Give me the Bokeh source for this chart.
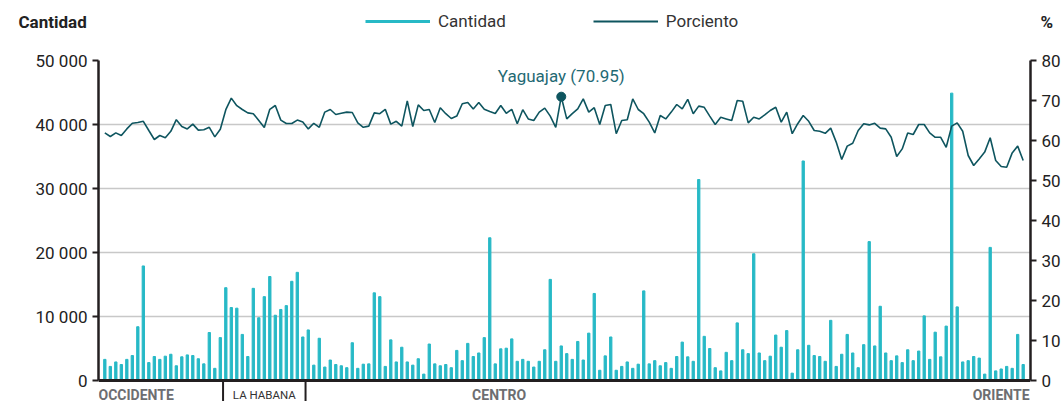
from bokeh.plotting import figure
from bokeh.layouts import column
from bokeh.models import Range1d, LinearAxis, FixedTicker, Label, Legend, LegendItem, Span
from bokeh.embed import file_html
from bokeh.resources import INLINE

# ---------------- data ----------------
cantidad_k = [
    3.3, 2.2, 2.9, 2.5, 3.3, 3.9, 8.4, 17.9, 2.8, 3.75, 3.3, 3.8, 4.1, 2.3, 3.7, 4.0, 3.9, 3.4, 2.6, 7.5, 1.9, 6.7,
    14.5, 11.4, 11.3, 7.2, 3.75, 14.4, 9.8, 13.1, 16.25, 10.2, 11.1, 11.7, 15.5, 16.9, 6.8,
    7.9, 2.4, 6.6, 2.1,
    3.2, 2.5, 2.3, 2.0, 5.9, 1.9, 2.55, 2.6, 13.7, 13.1, 2.2, 6.35, 2.9, 5.2, 2.9, 2.4, 3.4, 1.0, 5.7, 2.6, 2.3,
    2.5, 2.0, 4.7, 3.1, 5.8, 3.75, 4.3, 6.7, 22.3, 2.6, 4.95, 5.05, 6.5, 3.0, 3.3, 3.0, 2.1, 3.0, 4.8, 15.8, 3.0,
    5.4, 4.2, 3.3, 6.1, 3.2, 7.4, 13.6, 1.6, 3.85, 6.8, 1.6, 2.2, 2.9, 1.9, 2.55, 14.0, 2.6, 3.1, 2.3, 2.8, 1.9,
    3.75, 6.0, 3.7, 3.0, 31.4, 6.9, 5.0, 2.0, 1.5, 4.4, 3.1, 9.0, 4.8, 4.2, 19.8, 4.3, 3.1, 3.8, 7.1, 5.2, 7.8,
    1.15, 4.8, 34.3, 5.5, 3.9, 3.75, 3.0, 9.4, 2.2, 4.1, 7.2, 4.3, 2.0, 5.6, 21.7, 5.4, 11.6, 4.3, 3.1, 3.85, 2.8,
    4.8, 3.1, 4.6, 10.1, 3.3, 7.55, 3.7, 8.5, 44.9, 11.5, 2.9, 3.1, 3.75, 3.5, 1.0, 20.8, 1.5, 1.8, 2.2, 1.9, 7.2, 2.5,
]
cantidad = [v * 1000 for v in cantidad_k]

porciento = [
    61.9, 61.0, 61.9, 61.25, 62.9, 64.3, 64.5, 64.8, 62.5, 60.25, 61.25, 60.7, 62.3, 65.2, 63.5, 62.9, 64.1, 62.6,
    62.7, 63.3, 60.9, 62.8, 67.7, 70.6, 68.7, 67.75, 66.9, 66.7, 65.0, 63.25, 67.8, 68.75, 65.1, 64.25, 64.25, 65.1,
    64.6, 62.9, 64.3, 63.3, 67.1, 67.75,
    66.5, 66.8, 67.1, 67.0, 64.4, 63.3, 63.6, 66.9, 66.7, 67.8, 64.1, 64.8, 63.6, 69.9, 63.5, 68.9, 67.5, 67.75,
    64.5, 68.2, 66.7, 65.5, 66.1, 69.2, 69.5, 67.9, 69.5, 67.8, 67.25, 66.75, 68.75, 66.8, 67.8, 64.2, 67.7, 65.4,
    65.0, 67.1, 68.1, 66.1, 63.3,
    70.95, 65.4, 66.7, 67.9, 70.4, 67.1, 68.2, 64.0, 68.75, 69.0, 61.7, 65.0, 65.2, 70.4, 67.75, 66.7, 64.6, 61.9,
    66.25, 65.4, 67.1, 69.0, 67.9, 70.3, 66.7, 68.6, 68.3, 66.1, 64.0, 65.8, 65.4, 65.0, 70.0, 69.8, 64.4, 65.8,
    65.4, 66.4, 67.5, 68.3, 64.6, 67.1, 61.7,
    64.2, 66.25, 64.8, 62.5, 62.3, 61.8, 63.1, 59.6, 55.25, 58.6, 59.3, 62.5, 64.2, 63.9, 64.3, 63.1, 62.9, 60.8,
    56.0, 57.9, 61.9, 61.5, 64.0, 64.0, 61.9, 60.8, 60.8, 58.3, 63.6, 64.4, 62.3, 56.25, 53.75, 55.4, 57.1, 60.7,
    55.0, 53.5, 53.3, 56.9, 58.6, 55.0,
]

idx = list(range(len(cantidad)))

left_ticks = [0, 10000, 20000, 30000, 40000, 50000]
left_labels = ["0", "10 000", "20 000", "30 000", "40 000", "50 000"]
right_ticks = [0, 10, 20, 30, 40, 50, 60, 70, 80]

highlight_index = 83
highlight_label = "Yaguajay (70.95)"

series_names = ["Cantidad", "Porciento"]
region_names = ["OCCIDENTE", "LA HABANA", "CENTRO", "ORIENTE"]
region_dividers = [21.5, 36.5]
region_centers = [None, 29, 71.7, None]

# ---------------- styling ----------------
CYAN = "#27b9c6"
TEAL = "#0e555f"
AXIS = "#231f20"
GRID = "#c8c8c8"
GRAY = "#6d6e71"
FONT = "Roboto"

W = 1063
HEAD_H = 40
MAIN_H = 361
FL, FR, FT = 98, 33, 20
FW = W - FL - FR           # 932
PLOT_H = 320               # 0 .. 50000 span in px
EXT = MAIN_H - FT - PLOT_H  # px of frame below zero line
X0, X1 = -1.15, 168.33
YMAX, PMAX = 50000, 80
y_lo = -YMAX * EXT / PLOT_H
p_lo = -PMAX * EXT / PLOT_H
NAN = float("nan")


def xd(px):
    return X0 + px / FW * (X1 - X0)


# ---------------- header strip (title + legend) ----------------
head = figure(width=W, height=HEAD_H, output_backend="svg", toolbar_location=None,
              x_range=Range1d(0, W), y_range=Range1d(0, HEAD_H),
              x_axis_location=None, y_axis_location=None,
              min_border_left=0, min_border_right=0, min_border_top=0, min_border_bottom=0,
              outline_line_color=None, background_fill_color="white", border_fill_color="white")
head.frame_align = False
head.xgrid.visible = False
head.ygrid.visible = False

# legend proxies (no visible data)
l1 = head.line([0, 1], [NAN, NAN], color=CYAN, line_width=3)
l2 = head.line([0, 1], [NAN, NAN], color=TEAL, line_width=2)
legend = Legend(items=[LegendItem(label=series_names[0], renderers=[l1]),
                       LegendItem(label=series_names[1], renderers=[l2])],
                orientation="horizontal", location=(365, 9),
                glyph_width=65, glyph_height=20, label_height=20, label_standoff=8, spacing=87,
                padding=0, margin=0, border_line_alpha=0, background_fill_alpha=0,
                label_text_font=FONT, label_text_font_size="17px", label_text_color="#333333")
head.add_layout(legend)
head.add_layout(Label(x=18, y=HEAD_H - 21, text="Cantidad", text_align="left", text_baseline="middle",
                      text_font=FONT, text_font_style="bold", text_font_size="17px",
                      text_color="#222222"))
head.add_layout(Label(x=1040, y=HEAD_H - 21, text="%", text_align="left", text_baseline="middle",
                      text_font=FONT, text_font_style="bold", text_font_size="17px",
                      text_color="#222222"))

# ---------------- main chart ----------------
p = figure(width=W, height=MAIN_H, output_backend="svg", toolbar_location=None,
           x_range=Range1d(X0, X1), y_range=Range1d(y_lo, YMAX),
           x_axis_location=None,
           min_border_left=FL, min_border_right=FR, min_border_top=FT, min_border_bottom=0,
           outline_line_color=None, background_fill_color="white", border_fill_color="white")
p.frame_align = False
p.extra_y_ranges = {"pct": Range1d(p_lo, PMAX)}

la = p.yaxis[0]
la.ticker = FixedTicker(ticks=left_ticks)
la.bounds = (0, YMAX)
la.major_label_overrides = {t: s for t, s in zip(left_ticks, left_labels)}

ra = LinearAxis(y_range_name="pct", ticker=FixedTicker(ticks=right_ticks), bounds=(0, PMAX))
p.add_layout(ra, "right")

for ax in (la, ra):
    ax.axis_line_width = 2.5
    ax.axis_line_color = AXIS
    ax.major_tick_line_color = AXIS
    ax.major_tick_line_width = 2
    ax.major_tick_out = 6
    ax.major_tick_in = 0
    ax.minor_tick_line_color = None
    ax.major_label_standoff = 5
    ax.major_label_text_font = FONT
    ax.major_label_text_font_size = "17px"
    ax.major_label_text_color = "#222222"

p.xgrid.visible = False
p.ygrid.ticker = FixedTicker(ticks=left_ticks[1:])
p.ygrid.grid_line_color = GRID
p.ygrid.grid_line_width = 1.5

# bars and line
p.vbar(x=idx, top=cantidad, width=0.42, color=CYAN)
p.line(idx, porciento, y_range_name="pct", color=TEAL, line_width=1.6)
p.scatter([idx[highlight_index]], [porciento[highlight_index]], y_range_name="pct",
          size=9, color=TEAL)
p.add_layout(Label(x=idx[highlight_index], y=porciento[highlight_index], y_range_name="pct",
                   text=highlight_label, text_align="center", text_baseline="middle", y_offset=21,
                   text_font=FONT, text_font_size="17px", text_color="#1f6a74"))

# baseline and region dividers
p.add_layout(Span(location=0, dimension="width", line_color=AXIS, line_width=3))
p.segment(x0=region_dividers, x1=region_dividers, y0=[0] * len(region_dividers),
          y1=[y_lo] * len(region_dividers), line_color=AXIS, line_width=2)

# region labels
ry = -YMAX * 14 / PLOT_H
p.add_layout(Label(x=xd(0), y=ry, text=region_names[0], text_align="left",
                   text_baseline="middle", text_font=FONT, text_font_style="bold",
                   text_font_size="14px", text_color=GRAY))
p.add_layout(Label(x=region_centers[1], y=ry, text=region_names[1], text_align="center",
                   text_baseline="middle", text_font=FONT, text_font_size="11.5px",
                   text_color="#333333"))
p.add_layout(Label(x=region_centers[2], y=ry, text=region_names[2], text_align="center",
                   text_baseline="middle", text_font=FONT, text_font_style="bold",
                   text_font_size="14px", text_color=GRAY))
p.add_layout(Label(x=xd(FW - 1), y=ry, text=region_names[3], text_align="right",
                   text_baseline="middle", text_font=FONT, text_font_style="bold",
                   text_font_size="14px", text_color=GRAY))

layout = column(head, p, spacing=0)
open("out.html", "w").write(file_html(layout, INLINE))
